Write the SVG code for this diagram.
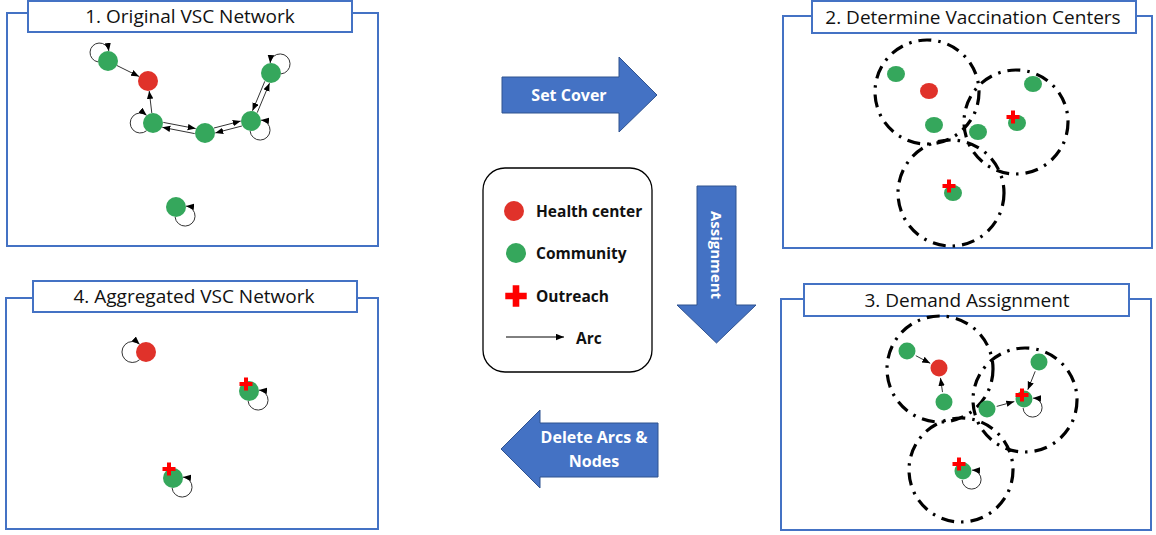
<svg xmlns="http://www.w3.org/2000/svg" width="1156" height="535" viewBox="0 0 1156 535">
<defs>
<style>
.frame{fill:#fff;stroke:#4472C4;stroke-width:2}
.title{fill:#fff;stroke:#4472C4;stroke-width:2}
.tt{font-family:"Open Sans","Liberation Sans",sans-serif;font-size:19px;fill:#111;text-anchor:middle}
.hc{fill:#E0322A}
.cm{fill:#35A75C}
.cr{fill:#FF0000}
.arc{fill:none;stroke:#333;stroke-width:1}
.zone{fill:none;stroke:#000;stroke-width:3.2;stroke-dasharray:13 7 2.5 7}
.big{fill:#4472C4;stroke:#2F528F;stroke-width:1}
.bt{font-family:"Open Sans","Liberation Sans",sans-serif;font-weight:bold;font-size:16px;fill:#fff;text-anchor:middle}
.lt{font-family:"Open Sans","Liberation Sans",sans-serif;font-weight:bold;font-size:15.5px;fill:#111}
</style>
<marker id="ah" markerWidth="9" markerHeight="8" refX="8" refY="3.2" orient="auto" markerUnits="userSpaceOnUse"><path d="M0,0 L8,3.2 L0,6.4 z" fill="#000"/></marker>
<path id="cross" d="M-2,-6.5h4v4.5h4.5v4h-4.5v4.5h-4v-4.5h-4.5v-4h4.5z"/>
</defs>
<rect width="1156" height="535" fill="#fff"/>

<!-- Panel frames -->
<g id="panel1">
<rect class="frame" x="7" y="13" width="371" height="233"/>
<rect class="title" x="28" y="1" width="324" height="31"/>
<text class="tt" x="190" y="23">1. Original VSC Network</text>
</g>
<g id="panel2">
<rect class="frame" x="783" y="16" width="369" height="232"/>
<rect class="title" x="812" y="1" width="324" height="32"/>
<text class="tt" x="973" y="24">2. Determine Vaccination Centers</text>
</g>
<g id="panel3">
<rect class="frame" x="781" y="299" width="370" height="231"/>
<rect class="title" x="804" y="284" width="325" height="32"/>
<text class="tt" x="967" y="307">3. Demand Assignment</text>
</g>
<g id="panel4">
<rect class="frame" x="6" y="298" width="372" height="231"/>
<rect class="title" x="33" y="281" width="324" height="31"/>
<text class="tt" x="194" y="303">4. Aggregated VSC Network</text>
</g>

<!-- Zones -->
<g id="zones">
<circle class="zone" cx="927" cy="92" r="52"/>
<circle class="zone" cx="1016" cy="122" r="52"/>
<circle class="zone" cx="951" cy="193" r="53"/>
<circle class="zone" cx="940" cy="369" r="53"/>
<circle class="zone" cx="1025" cy="400" r="52"/>
<circle class="zone" cx="961" cy="470" r="52"/>
</g>

<!-- Connectors -->
<g id="connectors">
<line class="arc" x1="116.9" y1="65.5" x2="139.1" y2="76.5" marker-end="url(#ah)"/>
<line class="arc" x1="151.8" y1="113.1" x2="149.2" y2="90.9" marker-end="url(#ah)"/>
<line class="arc" x1="163.3" y1="122.4" x2="195.7" y2="128.6" marker-end="url(#ah)"/>
<line class="arc" x1="194.7" y1="133.6" x2="162.3" y2="127.3" marker-end="url(#ah)"/>
<line class="arc" x1="214.0" y1="128.0" x2="240.7" y2="121.1" marker-end="url(#ah)"/>
<line class="arc" x1="241.9" y1="126.0" x2="215.3" y2="132.9" marker-end="url(#ah)"/>
<line class="arc" x1="264.8" y1="81.3" x2="252.5" y2="110.8" marker-end="url(#ah)"/>
<line class="arc" x1="257.2" y1="112.7" x2="269.5" y2="83.2" marker-end="url(#ah)"/>
<path class="arc" d="M98,61.9 A9.5 9.5 0 1 1 108.9,51" marker-end="url(#ah)"/>
<path class="arc" d="M146.6,130.7 A10 10 0 1 1 146.6,115.3" marker-end="url(#ah)"/>
<path class="arc" d="M250.1,131 A10 10 0 1 0 261,120.1" marker-end="url(#ah)"/>
<path class="arc" d="M281,73.9 A10 10 0 1 0 270.1,63" marker-end="url(#ah)"/>
<path class="arc" d="M175.1,217 A10 10 0 1 0 186,206.1" marker-end="url(#ah)"/>

<line class="arc" x1="915.8" y1="355.7" x2="930.2" y2="363.3" marker-end="url(#ah)"/>
<line class="arc" x1="942.5" y1="392.1" x2="940.5" y2="377.9" marker-end="url(#ah)"/>
<line class="arc" x1="1035.2" y1="371.3" x2="1027.8" y2="389.7" marker-end="url(#ah)"/>
<line class="arc" x1="996.7" y1="406.4" x2="1014.3" y2="401.6" marker-end="url(#ah)"/>
<path class="arc" d="M1023.1,408 A9.5 9.5 0 1 0 1033,398.1" marker-end="url(#ah)"/>
<path class="arc" d="M962.1,480 A9.5 9.5 0 1 0 972,470.1" marker-end="url(#ah)"/>

<path class="arc" d="M139.6,359.7 A10.5 10.5 0 1 1 139.6,344.3" marker-end="url(#ah)"/>
<path class="arc" d="M248.1,401 A10 10 0 1 0 259,390.1" marker-end="url(#ah)"/>
<path class="arc" d="M172.1,488 A10 10 0 1 0 183,477.1" marker-end="url(#ah)"/>
</g>

<!-- Panel 1 nodes -->
<g id="p1-nodes">
<circle id="p1-a" class="cm" cx="108" cy="61" r="10"/>
<circle id="p1-hc" class="hc" cx="148" cy="81" r="10"/>
<circle id="p1-b" class="cm" cx="153" cy="123" r="10"/>
<circle id="p1-c" class="cm" cx="205" cy="133" r="10"/>
<circle id="p1-d" class="cm" cx="251" cy="121" r="10"/>
<circle id="p1-e" class="cm" cx="271" cy="73" r="10"/>
<circle id="p1-f" class="cm" cx="176" cy="207" r="10"/>
</g>

<!-- Panel 2 nodes -->
<g id="p2-nodes">
<ellipse id="p2-a" class="cm" cx="896" cy="74" rx="9" ry="8"/>
<ellipse id="p2-hc" class="hc" cx="929" cy="91" rx="9" ry="8"/>
<ellipse id="p2-b" class="cm" cx="934" cy="125" rx="9" ry="8"/>
<ellipse id="p2-c" class="cm" cx="978" cy="132" rx="9" ry="8"/>
<ellipse id="p2-d" class="cm" cx="1033" cy="84" rx="9" ry="8"/>
<g id="p2-o1"><ellipse class="cm" cx="1017" cy="123" rx="9" ry="8"/><use href="#cross" class="cr" x="1013" y="117"/></g>
<g id="p2-o2"><ellipse class="cm" cx="953" cy="193" rx="9" ry="8"/><use href="#cross" class="cr" x="949" y="186"/></g>
</g>

<!-- Panel 3 nodes -->
<g id="p3-nodes">
<circle id="p3-a" class="cm" cx="907" cy="351" r="8.5"/>
<circle id="p3-hc" class="hc" cx="939" cy="368" r="8.5"/>
<circle id="p3-b" class="cm" cx="944" cy="402" r="8.5"/>
<circle id="p3-d" class="cm" cx="1039" cy="362" r="8.5"/>
<circle id="p3-c" class="cm" cx="987" cy="409" r="8.5"/>
<g id="p3-o1"><circle class="cm" cx="1024" cy="399" r="8.5"/><use href="#cross" class="cr" x="1022" y="395"/></g>
<g id="p3-o2"><circle class="cm" cx="963" cy="471" r="8.5"/><use href="#cross" class="cr" x="959" y="464"/></g>
</g>

<!-- Panel 4 nodes -->
<g id="p4-nodes">
<circle id="p4-hc" class="hc" cx="146" cy="352" r="10"/>
<g id="p4-o1"><circle class="cm" cx="249" cy="391" r="10"/><use href="#cross" class="cr" x="246" y="384"/></g>
<g id="p4-o2"><circle class="cm" cx="173" cy="478" r="10"/><use href="#cross" class="cr" x="169" y="469"/></g>
</g>

<!-- Legend -->
<g id="legend">
<rect x="483" y="168" width="169" height="204" rx="22" fill="#fff" stroke="#000" stroke-width="1.3"/>
<circle class="hc" cx="514" cy="211" r="10"/>
<text class="lt" x="536" y="217">Health center</text>
<circle class="cm" cx="516" cy="253" r="10"/>
<text class="lt" x="536" y="259">Community</text>
<use href="#cross" class="cr" transform="translate(516,296) scale(1.65)"/>
<text class="lt" x="536" y="302">Outreach</text>
<line x1="506" y1="337" x2="564" y2="337" stroke="#000" stroke-width="1" marker-end="url(#ah)"/>
<text class="lt" x="576" y="344">Arc</text>
</g>

<!-- Process arrows -->
<g id="arrow-setcover">
<polygon class="big" points="502,77 619,77 619,57 657,95 619,132 619,113 502,113"/>
<text class="bt" x="569" y="101">Set Cover</text>
</g>
<g id="arrow-assignment">
<polygon class="big" points="697,186 736,186 736,305 756,305 716.5,343 677,305 697,305"/>
<text class="bt" transform="translate(716,255) rotate(90)" x="0" y="5.5" style="font-size:15px">Assignment</text>
</g>
<g id="arrow-delete">
<polygon class="big" points="658,423 540,423 540,410 501,449 540,488 540,477 658,477"/>
<text class="bt" x="594" y="443">Delete Arcs &amp;</text>
<text class="bt" x="594" y="467">Nodes</text>
</g>
</svg>
